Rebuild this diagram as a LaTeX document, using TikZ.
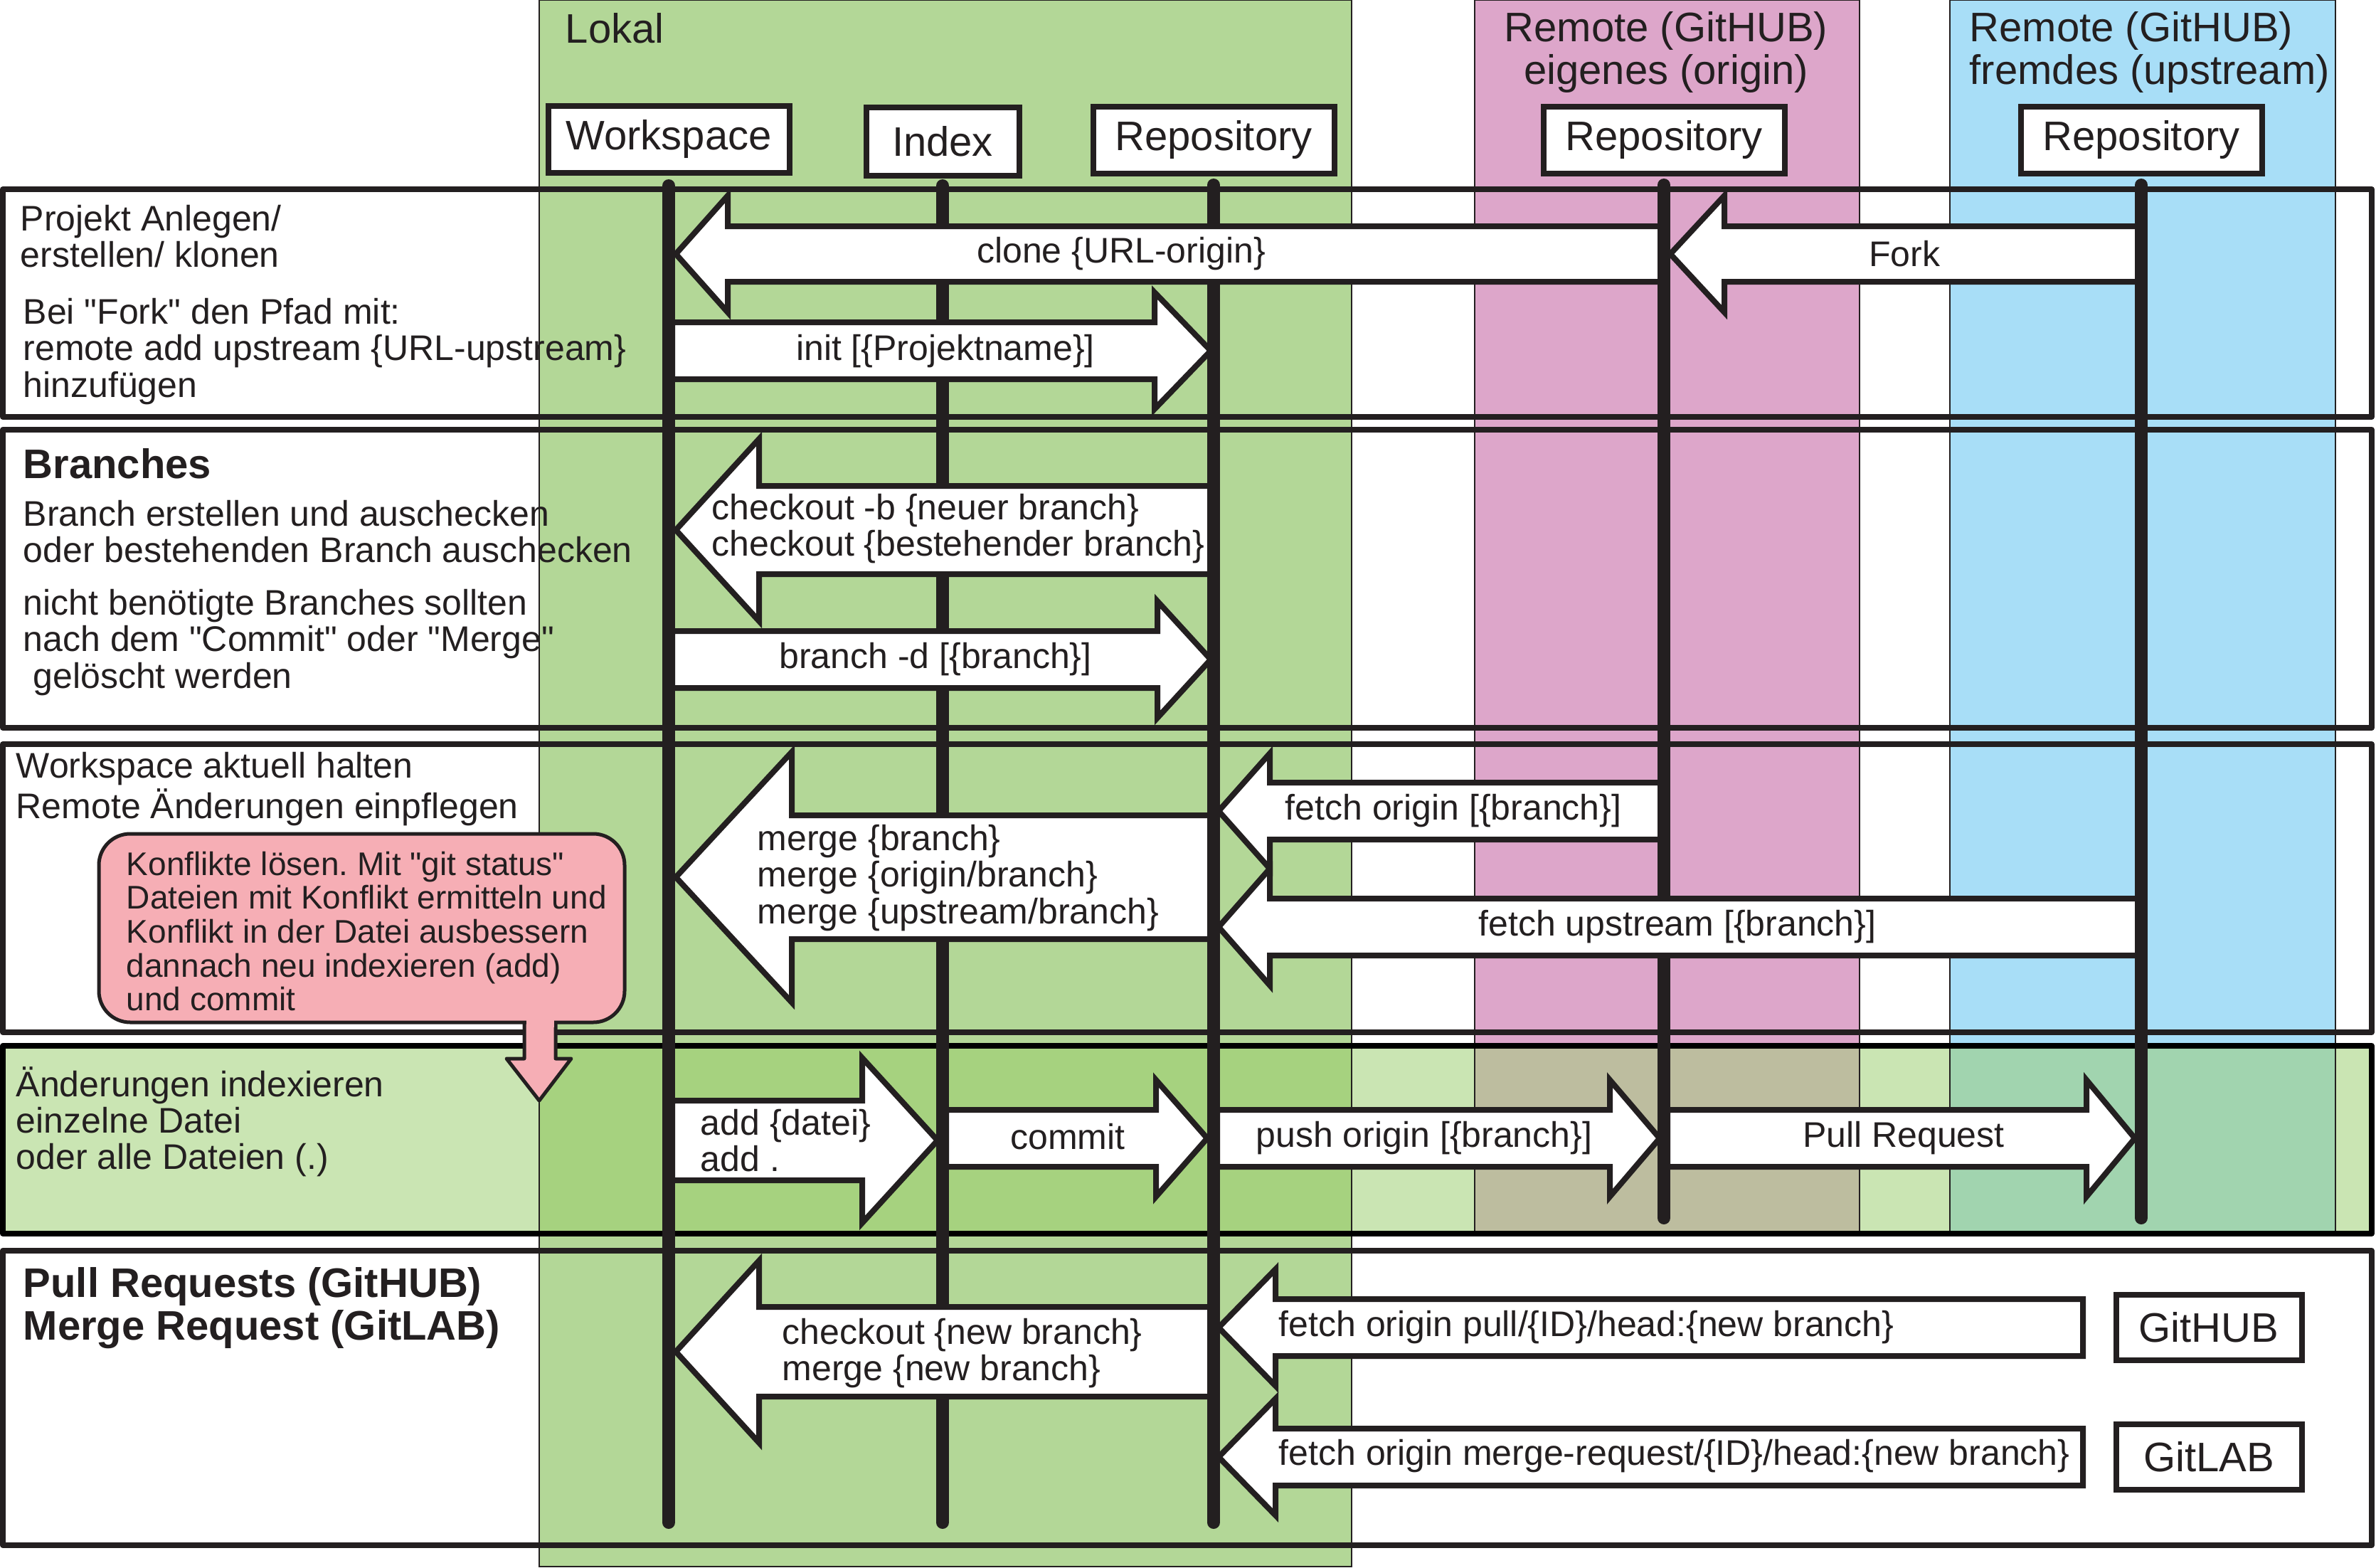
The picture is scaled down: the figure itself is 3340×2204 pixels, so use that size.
\documentclass[tikz,border=0pt]{standalone}
\usepackage{fontspec}
\setmainfont{Liberation Sans}[Ligatures=TeXOff]
\frenchspacing
\definecolor{linec}{HTML}{231F20}
\definecolor{lokal}{HTML}{B3D797}
\definecolor{rosa}{HTML}{DDA6CA}
\definecolor{blau}{HTML}{A8DEF7}
\definecolor{hlgreen}{HTML}{CAE5B3}
\definecolor{hllokal}{HTML}{A6D27F}
\definecolor{hlrosa}{HTML}{BDBD9F}
\definecolor{hlblau}{HTML}{A1D4AF}
\definecolor{calloutc}{HTML}{F6AEB5}
\newcommand{\fbody}{\fontsize{12.5}{12.8}\selectfont}
\newcommand{\fhead}{\fontsize{14.5}{15}\selectfont}
\newcommand{\fcall}{\fontsize{11.5}{11.9}\selectfont}
% left-pointing block arrow: tail, tip, centre y, shaft half, head half, head length
\newcommand{\blkL}[6]{\draw[blk] (#1,#3-#4) -- (#2+#6,#3-#4) -- (#2+#6,#3-#5) -- (#2,#3) -- (#2+#6,#3+#5) -- (#2+#6,#3+#4) -- (#1,#3+#4) -- cycle;}
% right-pointing block arrow
\newcommand{\blkR}[6]{\draw[blk] (#1,#3-#4) -- (#2-#6,#3-#4) -- (#2-#6,#3-#5) -- (#2,#3) -- (#2-#6,#3+#5) -- (#2-#6,#3+#4) -- (#1,#3+#4) -- cycle;}
\def\xWS{940}
\def\xIX{1325}
\def\xRP{1706}
\def\xOR{2339}
\def\xUP{3010}
\tikzset{
  band/.style={draw=linec, line width=0.35pt},
  sect/.style={draw=linec, line width=2pt, line join=round},
  life/.style={draw=linec, line width=4.5pt, line cap=round},
  hbox/.style={draw=linec, line width=2pt, fill=white, minimum height=23.5pt, inner sep=0pt, font=\fhead, text=linec},
  blk/.style={draw=linec, fill=white, line width=2pt, line join=miter},
  lbl/.style={font=\fbody, inner sep=0pt, align=left, text=linec},
  hdr/.style={font=\fhead, inner sep=0pt, text=linec},
  bold/.style={font=\fhead\bfseries, inner sep=0pt, align=left, text=linec},
  callbox/.style={draw=linec, fill=calloutc, line width=1.25pt, line join=round}
}
\begin{document}
\begin{tikzpicture}[x=0.25pt,y=-0.25pt]
\useasboundingbox (0,0) rectangle (3340,2204);
% column bands
\draw[band, fill=lokal] (758,0) rectangle (1900,2202);
\draw[band, fill=rosa] (2073,0) rectangle (2614,1734);
\draw[band, fill=blau] (2741,0) rectangle (3283,1734);
% highlighted section 4
\fill[hlgreen] (4,1470) rectangle (3334,1734);
\draw[band, fill=hllokal] (758,1470) rectangle (1900,1734);
\draw[band, fill=hlrosa] (2073,1470) rectangle (2614,1734);
\draw[band, fill=hlblau] (2741,1470) rectangle (3283,1734);
% column headers
\node[hdr, anchor=west] (lokal) at (794,40) {Lokal};
\node[hdr, align=center] (hor) at (2342,74) {Remote (GitHUB)\\eigenes (origin)};
\node[hdr, align=left, anchor=west] (hup) at (2768,74) {Remote (GitHUB)\\fremdes (upstream)};
% section frames
\draw[sect] (4,266) rectangle (3334,586);
\draw[sect] (4,604) rectangle (3334,1023);
\draw[sect] (4,1046) rectangle (3334,1451);
\draw[sect, draw=black] (4,1470) rectangle (3334,1734);
\draw[sect] (4,1758) rectangle (3334,2172);
% header boxes
\node[hbox, minimum width=84.75pt] (ws) at (\xWS,196) {Workspace};
\node[hbox, minimum width=53.75pt, minimum height=24pt] (ix) at (\xIX,199) {Index};
\node[hbox, minimum width=84.75pt] (rp) at (\xRP,197) {Repository};
\node[hbox, minimum width=84.75pt] (ro) at (\xOR,197) {Repository};
\node[hbox, minimum width=84.75pt] (ru) at (\xUP,197) {Repository};
% lifelines
\coordinate (endL) at (0,2140);
\coordinate (endR) at (0,1712);
\draw[life] (ws.south) ++(0,14) -- (ws.south |- endL);
\draw[life] (ix.south) ++(0,10) -- (ix.south |- endL);
\draw[life] (rp.south) ++(0,12) -- (rp.south |- endL);
\draw[life] (ro.south) ++(0,12) -- (ro.south |- endR);
\draw[life] (ru.south) ++(0,12) -- (ru.south |- endR);
% ---- section 1
\node[lbl, anchor=west] (t1a) at (28,332) {Projekt Anlegen/\\erstellen/ klonen};
\node[lbl, anchor=west] (t1b) at (32,494) {Bei "Fork" den Pfad mit:\\remote add upstream \{URL-upstream\}\\hinzufügen};
\blkL{\xOR-5}{\xWS+10}{357}{39}{82}{73}
\blkL{\xUP-5}{\xOR+9}{357}{39}{82}{76}
\blkR{\xWS+5}{\xRP-4}{493}{40}{82}{79}
\node[lbl] (aclone) at (1576,357) {clone \{URL-origin\}};
\node[lbl] (afork) at (2677,357) {Fork};
\node[lbl] (ainit) at (1329,494) {init [\{Projektname\}]};
% ---- section 2
\node[bold, anchor=west] (t2a) at (32,652) {Branches};
\node[lbl, anchor=west] (t2b) at (32,747) {Branch erstellen und auschecken\\oder bestehenden Branch auschecken};
\node[lbl, anchor=west] (t2c) at (32,903) {nicht benötigte Branches sollten\\nach dem "Commit" oder "Merge"\\\ gelöscht werden};
\blkL{\xRP-5}{\xWS+10}{745}{62}{128}{117}
\blkR{\xWS+5}{\xRP-4}{927}{40}{82}{75}
\node[lbl, anchor=west] (acheck) at (1000,743) {checkout -b \{neuer branch\}\\checkout \{bestehender branch\}};
\node[lbl] (abranch) at (1315,927) {branch -d [\{branch\}]};
% ---- section 3
\node[lbl, anchor=west] (t3a) at (22,1109) {Workspace aktuell halten\\Remote Änderungen einpflegen};
\blkL{\xRP-5}{\xWS+10}{1233}{87}{176}{163}
\blkL{\xOR-5}{\xRP+7}{1140}{40}{81}{72}
\blkL{\xUP-5}{\xRP+7}{1303}{40}{82}{72}
\node[lbl, anchor=west] (amerge) at (1064,1234) {merge \{branch\}\\merge \{origin/branch\}\\merge \{upstream/branch\}};
\node[lbl] (afo) at (2043,1140) {fetch origin [\{branch\}]};
\node[lbl] (afu) at (2358,1303) {fetch upstream [\{branch\}]};
% ---- section 4
\node[lbl, anchor=west] (t4a) at (22,1577) {Änderungen indexieren\\einzelne Datei\\oder alle Dateien (.)};
\blkR{\xWS+5}{\xIX-7}{1603}{56}{116}{106}
\blkR{\xIX+5}{\xRP-9}{1600}{40}{82}{72}
\blkR{\xRP+5}{\xOR-6}{1600}{40}{82}{70}
\blkR{\xOR+5}{\xUP-9}{1600}{40}{82}{68}
\node[lbl, anchor=west] (aadd) at (984,1603) {add \{datei\}\\add .};
\node[lbl] (acommit) at (1501,1598) {commit};
\node[lbl] (apush) at (2002,1600) {push origin [\{branch\}]};
\node[lbl] (apr) at (2676,1600) {Pull Request};
% ---- section 5
\node[bold, anchor=west] (t5a) at (32,1839) {Pull Requests (GitHUB)\\Merge Request (GitLAB)};
\blkL{\xRP-5}{\xWS+10}{1900}{63}{128}{117}
\blkL{2928}{\xRP+7}{1866}{40}{82}{80}
\blkL{2928}{\xRP+7}{2048}{40}{82}{80}
\node[lbl, anchor=west] (anew) at (1099,1902) {checkout \{new branch\}\\merge \{new branch\}};
\node[lbl, anchor=west] (apull) at (1797,1866) {fetch origin pull/\{ID\}/head:\{new branch\}};
\node[lbl, anchor=west] (amr) at (1797,2047) {fetch origin merge-request/\{ID\}/head:\{new branch\}};
\node[hbox, minimum width=65.25pt, minimum height=23pt] (gh) at (3105,1866) {GitHUB};
\node[hbox, minimum width=65.25pt, minimum height=23pt] (gl) at (3105,2048) {GitLAB};
% ---- callout
\draw[callbox] (737,1420) -- (737,1488) -- (712,1488) -- (758,1547) -- (803,1488) -- (781,1488) -- (781,1420) -- cycle;
\draw[callbox, rounded corners=11pt] (139,1172) rectangle (878,1437);
\fill[calloutc] (739.5,1431) rectangle (778.5,1444);
\node[lbl, font=\fcall, anchor=west] (cl) at (177,1309) {Konflikte lösen. Mit "git status"\\Dateien mit Konflikt ermitteln und\\Konflikt in der Datei ausbessern\\dannach neu indexieren (add)\\und commit};
\end{tikzpicture}
\end{document}
